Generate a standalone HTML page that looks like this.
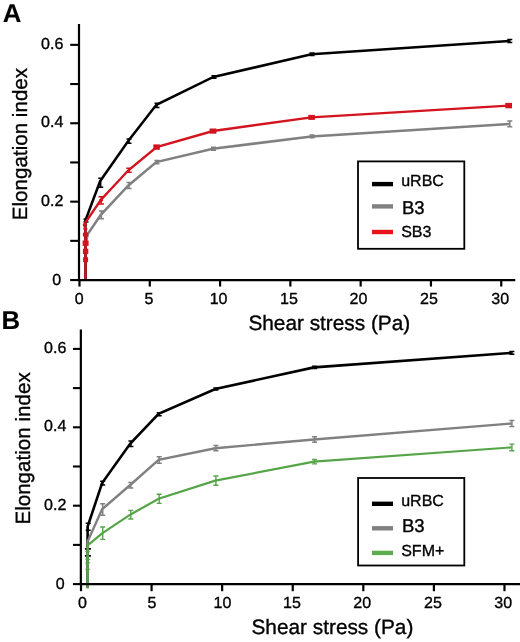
<!DOCTYPE html>
<html><head><meta charset="utf-8"><style>
html,body{margin:0;padding:0;background:#fff;}
body{width:520px;height:642px;overflow:hidden;}
svg{display:block;will-change:transform;}
text{font-family:"Liberation Sans",sans-serif;fill:#000;stroke:#000;stroke-width:0.35px;text-rendering:geometricPrecision;}
.t{font-size:16px;}
.l{font-size:16px;}
.ti{font-size:20.8px;}
.pl{font-size:25.8px;font-weight:bold;stroke-width:0.1px;}
</style></head><body>
<svg width="520" height="642" viewBox="0 0 520 642">
<path d="M85.5 280 L85.5 245 L87.8 234 L100.8 214.9 L128.4 185.5 L156.3 162.1 L212.9 148.8 L311.4 136.4 L509.2 123.9" fill="none" stroke="#808080" stroke-width="2.5" stroke-linejoin="miter" stroke-miterlimit="3"/>



<path d="M101.4 211 V218.8 M98.9 211 H103.9 M98.9 218.8 H103.9" stroke="#808080" stroke-width="1.5" fill="none"/>
<path d="M129 182.6 V188.4 M126.5 182.6 H131.5 M126.5 188.4 H131.5" stroke="#808080" stroke-width="1.5" fill="none"/>
<path d="M156.9 160.4 V163.8 M154.4 160.4 H159.4 M154.4 163.8 H159.4" stroke="#808080" stroke-width="1.5" fill="none"/>
<path d="M213.5 147.3 V150.3 M211 147.3 H216 M211 150.3 H216" stroke="#808080" stroke-width="1.5" fill="none"/>
<path d="M312 135.1 V137.7 M309.5 135.1 H314.5 M309.5 137.7 H314.5" stroke="#808080" stroke-width="1.5" fill="none"/>
<path d="M509.8 121.1 V126.7 M507.3 121.1 H512.3 M507.3 126.7 H512.3" stroke="#808080" stroke-width="1.5" fill="none"/>
<path d="M85.5 280 L85.5 240 L85.4 220.5 L100.1 181.2 L128.4 140.8 L156.4 104.8 L213.4 77 L311.4 54.3 L509.2 40.9" fill="none" stroke="#000" stroke-width="2.5" stroke-linejoin="miter" stroke-miterlimit="3"/>


<path d="M86 218.9 V222.1 M83.5 218.9 H88.5 M83.5 222.1 H88.5" stroke="#000" stroke-width="1.5" fill="none"/>
<path d="M100.7 178.2 V187.2 M98.2 178.2 H103.2 M98.2 187.2 H103.2" stroke="#000" stroke-width="1.5" fill="none"/>
<path d="M129 138.9 V143.3 M126.5 138.9 H131.5 M126.5 143.3 H131.5" stroke="#000" stroke-width="1.5" fill="none"/>
<path d="M157 103.2 V107.6 M154.5 103.2 H159.5 M154.5 107.6 H159.5" stroke="#000" stroke-width="1.5" fill="none"/>
<path d="M214 75.7 V78.3 M211.5 75.7 H216.5 M211.5 78.3 H216.5" stroke="#000" stroke-width="1.5" fill="none"/>
<path d="M312 53 V55.6 M309.5 53 H314.5 M309.5 55.6 H314.5" stroke="#000" stroke-width="1.5" fill="none"/>
<path d="M509.8 39.4 V42.4 M507.3 39.4 H512.3 M507.3 42.4 H512.3" stroke="#000" stroke-width="1.5" fill="none"/>
<path d="M85.5 280 L85.5 259.5 L85.5 251.4 L85.5 243.2 L85.5 234.6 L85.5 228.8 L84 224.7 L100.6 200.3 L128.4 170.3 L156.6 147.1 L213 131 L311.4 117.4 L508.7 105.6" fill="none" stroke="#d3141e" stroke-width="2.4" stroke-linejoin="miter" stroke-miterlimit="3"/>







<path d="M101.2 196.7 V203.9 M98.45 196.7 H103.95 M98.45 203.9 H103.95" stroke="#d3141e" stroke-width="1.5" fill="none"/>
<path d="M129 168.3 V172.3 M126.25 168.3 H131.75 M126.25 172.3 H131.75" stroke="#d3141e" stroke-width="1.5" fill="none"/>




<rect x="83.1" y="257.2" width="5" height="5" fill="#d3141e"/>
<rect x="82.9" y="248.7" width="5.4" height="5.4" fill="#d3141e"/>
<rect x="82.6" y="240.5" width="6" height="5.4" fill="#d3141e"/>
<rect x="82.9" y="232.6" width="5.2" height="4" fill="#d3141e"/>
<rect x="83.3" y="228" width="4" height="1.6" fill="#d3141e"/>
<rect x="83" y="224" width="4" height="1.6" fill="#d3141e"/>
<rect x="99" y="199.3" width="4" height="2" fill="#d3141e"/>
<rect x="153.35" y="144.4" width="6.5" height="5.4" fill="#d3141e"/>
<rect x="209.6" y="128.5" width="6.8" height="5.2" fill="#d3141e"/>
<rect x="308.3" y="114.9" width="6.6" height="5" fill="#d3141e"/>
<rect x="505.3" y="102.9" width="6.7" height="5.4" fill="#d3141e"/>
<path d="M87.6 588 L87.6 556 L87.6 526.7 L102.1 483.1 L130.3 443.6 L158.6 413.9 L215.3 389 L314 367.4 L511.3 352.9" fill="none" stroke="#000" stroke-width="2.6" stroke-linejoin="miter" stroke-miterlimit="3"/>


<path d="M88.2 523.2 V530.2 M85.7 523.2 H90.7 M85.7 530.2 H90.7" stroke="#000" stroke-width="1.5" fill="none"/>
<path d="M102.7 481.2 V485 M100.2 481.2 H105.2 M100.2 485 H105.2" stroke="#000" stroke-width="1.5" fill="none"/>
<path d="M130.9 441 V446.6 M128.4 441 H133.4 M128.4 446.6 H133.4" stroke="#000" stroke-width="1.5" fill="none"/>
<path d="M159.2 412.8 V415.8 M156.7 412.8 H161.7 M156.7 415.8 H161.7" stroke="#000" stroke-width="1.5" fill="none"/>
<path d="M215.9 387.9 V390.1 M213.4 387.9 H218.4 M213.4 390.1 H218.4" stroke="#000" stroke-width="1.5" fill="none"/>
<path d="M314.6 366.3 V368.5 M312.1 366.3 H317.1 M312.1 368.5 H317.1" stroke="#000" stroke-width="1.5" fill="none"/>
<path d="M511.9 351.5 V354.3 M509.4 351.5 H514.4 M509.4 354.3 H514.4" stroke="#000" stroke-width="1.5" fill="none"/>
<path d="M87.9 548.9 V555.9 M84.9 548.9 H90.9 M84.9 555.9 H90.9" stroke="#000" stroke-width="1.6" fill="none"/>
<path d="M87.6 588 L87.6 541.5 L102.1 509.3 L130.2 485 L158.6 459.9 L215.3 448.2 L314 439.5 L511.3 423.5" fill="none" stroke="#808080" stroke-width="2.4" stroke-linejoin="miter" stroke-miterlimit="3"/>


<path d="M102.7 503.7 V515.3 M100.2 503.7 H105.2 M100.2 515.3 H105.2" stroke="#808080" stroke-width="1.5" fill="none"/>
<path d="M130.8 482.4 V488 M128.3 482.4 H133.3 M128.3 488 H133.3" stroke="#808080" stroke-width="1.5" fill="none"/>
<path d="M159.2 456.8 V463.2 M156.7 456.8 H161.7 M156.7 463.2 H161.7" stroke="#808080" stroke-width="1.5" fill="none"/>
<path d="M215.9 445.6 V450.8 M213.4 445.6 H218.4 M213.4 450.8 H218.4" stroke="#808080" stroke-width="1.5" fill="none"/>
<path d="M314.6 436.7 V442.3 M312.1 436.7 H317.1 M312.1 442.3 H317.1" stroke="#808080" stroke-width="1.5" fill="none"/>
<path d="M511.9 420.5 V426.5 M509.4 420.5 H514.4 M509.4 426.5 H514.4" stroke="#808080" stroke-width="1.5" fill="none"/>
<path d="M87.7 588.6 L87.7 545.3 L102.1 533.4 L130.2 514.7 L158.6 498.8 L215.3 480.6 L314 461.7 L511.3 447.4" fill="none" stroke="#55a548" stroke-width="2.2" stroke-linejoin="miter" stroke-miterlimit="3"/>


<path d="M102.7 527 V539.4 M100.2 527 H105.2 M100.2 539.4 H105.2" stroke="#55a548" stroke-width="1.4" fill="none"/>
<path d="M130.8 510.4 V519 M128.3 510.4 H133.3 M128.3 519 H133.3" stroke="#55a548" stroke-width="1.4" fill="none"/>
<path d="M159.2 494.2 V503.4 M156.7 494.2 H161.7 M156.7 503.4 H161.7" stroke="#55a548" stroke-width="1.4" fill="none"/>
<path d="M215.9 476 V485.2 M213.4 476 H218.4 M213.4 485.2 H218.4" stroke="#55a548" stroke-width="1.4" fill="none"/>
<path d="M314.6 459.5 V463.9 M312.1 459.5 H317.1 M312.1 463.9 H317.1" stroke="#55a548" stroke-width="1.4" fill="none"/>
<path d="M511.9 444.1 V450.7 M509.4 444.1 H514.4 M509.4 450.7 H514.4" stroke="#55a548" stroke-width="1.4" fill="none"/>
<line x1="85.3" y1="551.8" x2="90.3" y2="551.8" stroke="#55a548" stroke-width="1"/>
<line x1="85.3" y1="559.4" x2="90.3" y2="559.4" stroke="#55a548" stroke-width="1"/>
<line x1="85.3" y1="562.9" x2="90.3" y2="562.9" stroke="#55a548" stroke-width="1"/>
<line x1="85.3" y1="569.3" x2="90.3" y2="569.3" stroke="#55a548" stroke-width="1"/>
<line x1="79" y1="23.9" x2="79" y2="281.05" stroke="#000" stroke-width="2.2"/>
<line x1="78" y1="280.05" x2="515.3" y2="280.05" stroke="#000" stroke-width="2.2"/>
<line x1="70.2" y1="280.05" x2="79" y2="280.05" stroke="#000" stroke-width="2.1"/>
<text x="61.2" y="285" text-anchor="end" class="t">0</text>
<line x1="70.2" y1="240.85" x2="79" y2="240.85" stroke="#000" stroke-width="2.1"/>
<line x1="70.2" y1="201.65" x2="79" y2="201.65" stroke="#000" stroke-width="2.1"/>
<text x="63.3" y="206" text-anchor="end" class="t">0.2</text>
<line x1="70.2" y1="162.45" x2="79" y2="162.45" stroke="#000" stroke-width="2.1"/>
<line x1="70.2" y1="123.25" x2="79" y2="123.25" stroke="#000" stroke-width="2.1"/>
<text x="63.3" y="127" text-anchor="end" class="t">0.4</text>
<line x1="70.2" y1="84.05" x2="79" y2="84.05" stroke="#000" stroke-width="2.1"/>
<line x1="70.2" y1="44.85" x2="79" y2="44.85" stroke="#000" stroke-width="2.1"/>
<text x="63.3" y="49" text-anchor="end" class="t">0.6</text>
<line x1="79.5" y1="280.05" x2="79.5" y2="286.55" stroke="#000" stroke-width="2.2"/>
<text x="79.1" y="303.6" text-anchor="middle" class="t">0</text>
<line x1="149.79" y1="280.05" x2="149.79" y2="286.55" stroke="#000" stroke-width="2.2"/>
<text x="148.95" y="303.6" text-anchor="middle" class="t">5</text>
<line x1="220.08" y1="280.05" x2="220.08" y2="286.55" stroke="#000" stroke-width="2.2"/>
<text x="218.55" y="303.6" text-anchor="middle" class="t">10</text>
<line x1="290.37" y1="280.05" x2="290.37" y2="286.55" stroke="#000" stroke-width="2.2"/>
<text x="288.95" y="303.6" text-anchor="middle" class="t">15</text>
<line x1="360.66" y1="280.05" x2="360.66" y2="286.55" stroke="#000" stroke-width="2.2"/>
<text x="358.45" y="303.6" text-anchor="middle" class="t">20</text>
<line x1="430.95" y1="280.05" x2="430.95" y2="286.55" stroke="#000" stroke-width="2.2"/>
<text x="428.95" y="303.6" text-anchor="middle" class="t">25</text>
<line x1="501.24" y1="280.05" x2="501.24" y2="286.55" stroke="#000" stroke-width="2.2"/>
<text x="500.25" y="303.6" text-anchor="middle" class="t">30</text>
<line x1="80.85" y1="329.6" x2="80.85" y2="585.1" stroke="#000" stroke-width="2.2"/>
<line x1="79.85" y1="584.1" x2="520" y2="584.1" stroke="#000" stroke-width="2.2"/>
<line x1="72.95" y1="584.1" x2="80.85" y2="584.1" stroke="#000" stroke-width="2.1"/>
<text x="64.6" y="589" text-anchor="end" class="t">0</text>
<line x1="72.95" y1="544.9" x2="80.85" y2="544.9" stroke="#000" stroke-width="2.1"/>
<line x1="72.95" y1="505.7" x2="80.85" y2="505.7" stroke="#000" stroke-width="2.1"/>
<text x="66.3" y="510" text-anchor="end" class="t">0.2</text>
<line x1="72.95" y1="466.5" x2="80.85" y2="466.5" stroke="#000" stroke-width="2.1"/>
<line x1="72.95" y1="427.3" x2="80.85" y2="427.3" stroke="#000" stroke-width="2.1"/>
<text x="66.3" y="431" text-anchor="end" class="t">0.4</text>
<line x1="72.95" y1="388.1" x2="80.85" y2="388.1" stroke="#000" stroke-width="2.1"/>
<line x1="72.95" y1="348.9" x2="80.85" y2="348.9" stroke="#000" stroke-width="2.1"/>
<text x="66.3" y="353" text-anchor="end" class="t">0.6</text>
<line x1="81" y1="584.1" x2="81" y2="591.2" stroke="#000" stroke-width="2.2"/>
<text x="82.35" y="608" text-anchor="middle" class="t">0</text>
<line x1="151.58" y1="584.1" x2="151.58" y2="591.2" stroke="#000" stroke-width="2.2"/>
<text x="151.95" y="608" text-anchor="middle" class="t">5</text>
<line x1="222.16" y1="584.1" x2="222.16" y2="591.2" stroke="#000" stroke-width="2.2"/>
<text x="222.5" y="608" text-anchor="middle" class="t">10</text>
<line x1="292.74" y1="584.1" x2="292.74" y2="591.2" stroke="#000" stroke-width="2.2"/>
<text x="291.9" y="608" text-anchor="middle" class="t">15</text>
<line x1="363.32" y1="584.1" x2="363.32" y2="591.2" stroke="#000" stroke-width="2.2"/>
<text x="362.2" y="608" text-anchor="middle" class="t">20</text>
<line x1="433.9" y1="584.1" x2="433.9" y2="591.2" stroke="#000" stroke-width="2.2"/>
<text x="433" y="608" text-anchor="middle" class="t">25</text>
<line x1="504.48" y1="584.1" x2="504.48" y2="591.2" stroke="#000" stroke-width="2.2"/>
<text x="503.2" y="608" text-anchor="middle" class="t">30</text>
<rect x="358" y="161.4" width="106.3" height="87.4" fill="#fff" stroke="#000" stroke-width="1.8"/>
<line x1="372" y1="184.1" x2="393" y2="184.1" stroke="#000" stroke-width="4.4"/>
<text x="401.2" y="186.2" style="font-size:16px" class="l">uRBC</text>
<line x1="372" y1="206.4" x2="393" y2="206.4" stroke="#808080" stroke-width="4.4"/>
<text x="401.9" y="213.6" style="font-size:18.5px" class="l">B3</text>
<line x1="372" y1="232" x2="393" y2="232" stroke="#e8141c" stroke-width="4.4"/>
<text x="401.2" y="237.1" style="font-size:16px" class="l">SB3</text>
<rect x="358.1" y="478" width="106.2" height="87.5" fill="#fff" stroke="#000" stroke-width="1.8"/>
<line x1="372" y1="503.8" x2="393" y2="503.8" stroke="#000" stroke-width="4.4"/>
<text x="401.2" y="506.2" style="font-size:16px" class="l">uRBC</text>
<line x1="372" y1="528.3" x2="393" y2="528.3" stroke="#808080" stroke-width="4.4"/>
<text x="401.9" y="532.1" style="font-size:18.5px" class="l">B3</text>
<line x1="372" y1="552.9" x2="393" y2="552.9" stroke="#5dab4f" stroke-width="4.4"/>
<text x="401.2" y="556.1" style="font-size:16px" class="l">SFM+</text>
<text x="248.4" y="329.8" class="ti">Shear stress (Pa)</text>
<text x="251.5" y="634.4" class="ti">Shear stress (Pa)</text>
<text transform="translate(27.4 220.2) rotate(-90)" class="ti" style="font-size:20.6px">Elongation index</text>
<text transform="translate(30.3 524.6) rotate(-90)" class="ti" style="font-size:20.6px">Elongation index</text>
<text x="2.8" y="21.9" class="pl">A</text>
<text x="1.5" y="329.2" class="pl">B</text>
</svg>
</body></html>
